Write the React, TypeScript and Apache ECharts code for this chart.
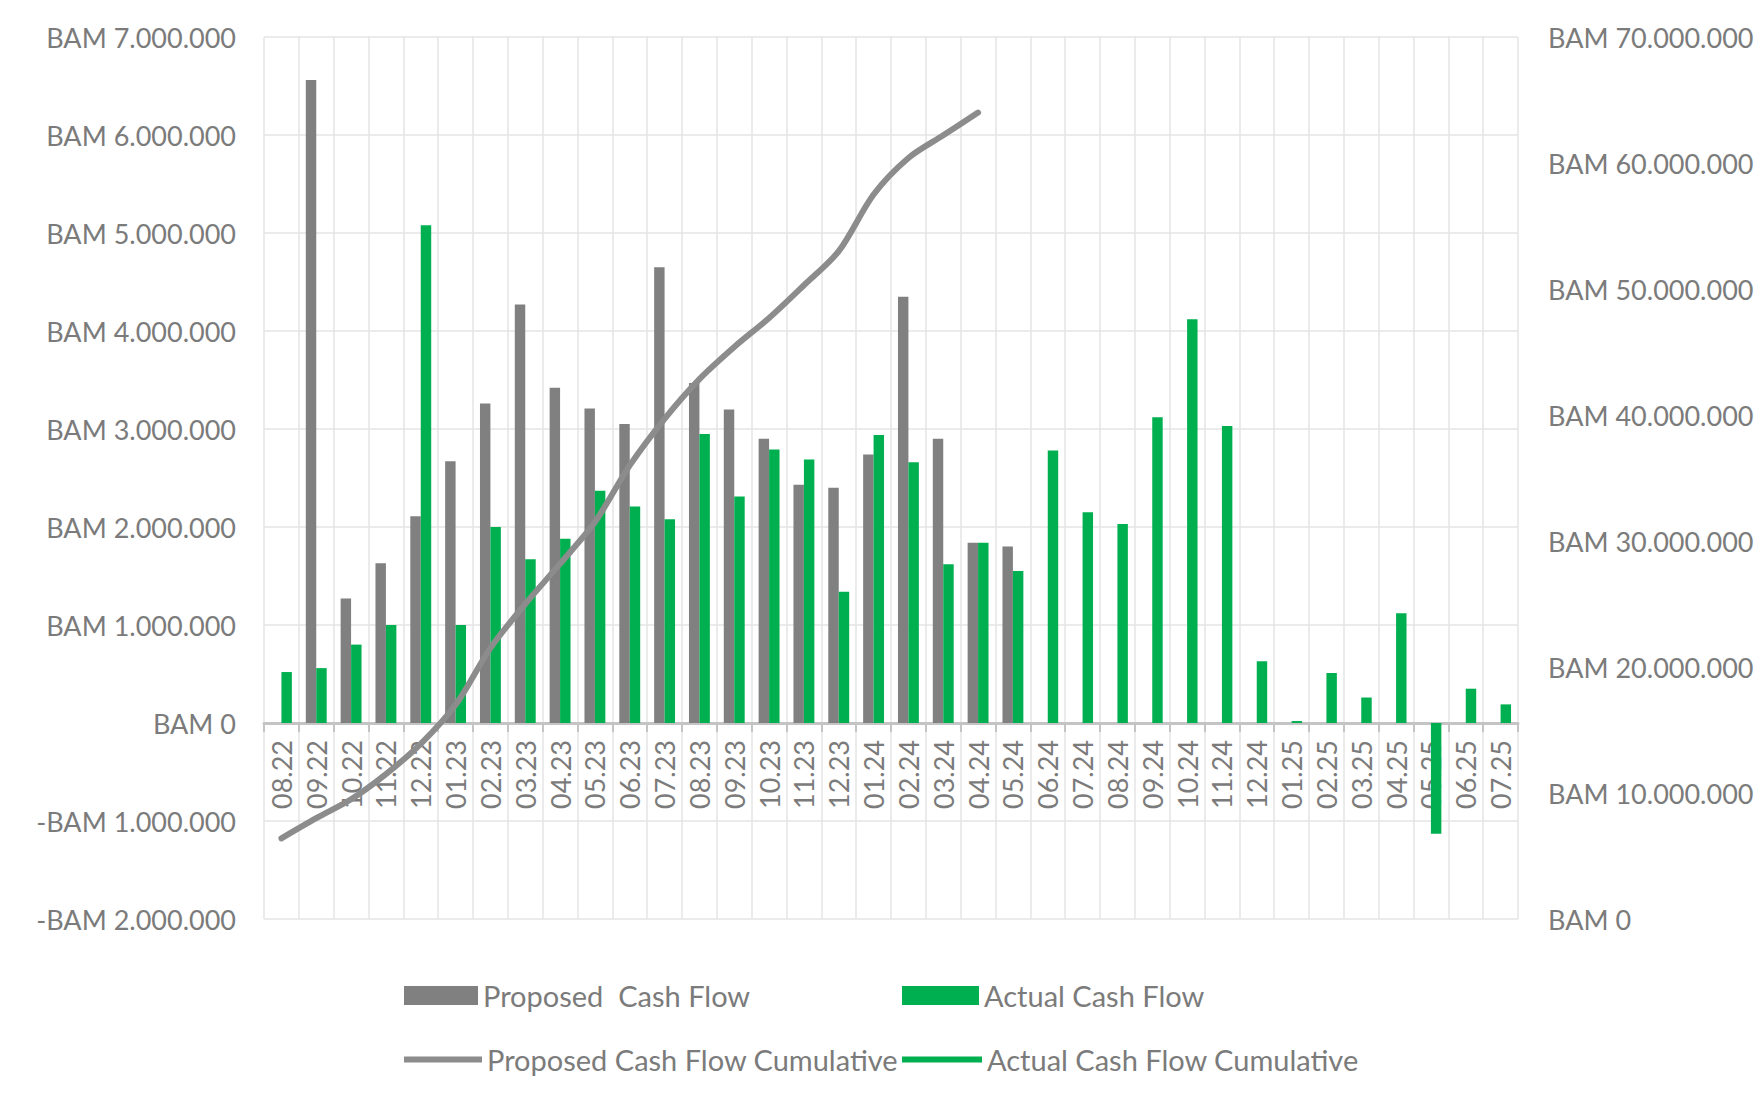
import React, { useEffect, useRef } from "react";
import * as echarts from "echarts";

const categories = [
  "08.22", "09.22", "10.22", "11.22", "12.22",
  "01.23", "02.23", "03.23", "04.23", "05.23", "06.23", "07.23", "08.23", "09.23", "10.23", "11.23", "12.23",
  "01.24", "02.24", "03.24", "04.24", "05.24", "06.24", "07.24", "08.24", "09.24", "10.24", "11.24", "12.24",
  "01.25", "02.25", "03.25", "04.25", "05.25", "06.25", "07.25",
];

const proposedCashFlow: (number | null)[] = [
  null, 6560000, 1270000, 1630000, 2110000,
  2670000, 3260000, 4270000, 3420000, 3210000, 3050000, 4650000, 3470000, 3200000, 2900000, 2430000, 2400000,
  2740000, 4350000, 2900000, 1840000, 1800000, null, null, null, null, null, null, null,
  null, null, null, null, null, null, null,
];

const actualCashFlow: (number | null)[] = [
  520000, 560000, 800000, 1000000, 5080000,
  1000000, 2000000, 1670000, 1880000, 2370000, 2210000, 2080000, 2950000, 2310000, 2790000, 2690000, 1340000,
  2940000, 2660000, 1620000, 1840000, 1550000, 2780000, 2150000, 2030000, 3120000, 4120000, 3030000, 630000,
  20000, 510000, 260000, 1120000, -1130000, 350000, 190000,
];

const proposedCumulative: (number | null)[] = [
  6400000, 8000000, 9500000, 11500000, 13900000,
  17000000, 21500000, 25000000, 28200000, 31500000, 36000000, 39700000, 42850000, 45400000, 47700000, 50300000, 53000000,
  57500000, 60400000, 62200000, 64000000, null, null, null, null, null, null, null, null,
  null, null, null, null, null, null, null,
];

const actualCumulative: (number | null)[] = [];

const leftAxisMin = -2000000;
const leftAxisMax = 7000000;
const leftAxisStep = 1000000;
const rightAxisMin = 0;
const rightAxisMax = 70000000;
const rightAxisStep = 10000000;

const GRAY = "#808080";
const LINE_GRAY = "#8c8c8c";
const GREEN = "#00b050";
const TEXT = "#7b7b7b";
const GRID = "#e4e4e4";
const FONT = "Lato";

const GRID_TOP = 37;
const GRID_HEIGHT = 882;

function bam(v: number): string {
  const s = Math.abs(Math.round(v))
    .toString()
    .replace(/\B(?=(\d{3})+(?!\d))/g, ".");
  return (v < 0 ? "-" : "") + "BAM " + s;
}

export default function App() {
  const ref = useRef<HTMLDivElement>(null);

  useEffect(() => {
    if (!ref.current) return;
    const chart = echarts.init(ref.current, undefined, { renderer: "svg" });
    const legendText = { color: TEXT, fontSize: 29, fontFamily: FONT };
    // distance from the bottom of the grid up to the value 0 of the left axis
    const zeroOffset = (GRID_HEIGHT * (0 - leftAxisMin)) / (leftAxisMax - leftAxisMin);
    chart.setOption({
      animation: false,
      backgroundColor: "#ffffff",
      textStyle: { fontFamily: FONT },
      grid: { left: 264, top: GRID_TOP, width: 1254, height: GRID_HEIGHT, containLabel: false },
      legend: [
        {
          left: 404, top: 981, padding: 0, itemWidth: 74, itemHeight: 19,
          data: [{ name: "Proposed  Cash Flow", icon: "rect" }], textStyle: legendText,
        },
        {
          left: 902, top: 981, padding: 0, itemWidth: 77, itemHeight: 19,
          data: [{ name: "Actual Cash Flow", icon: "rect" }], textStyle: legendText,
        },
        {
          left: 404, top: 1045, padding: 0, itemWidth: 78, itemHeight: 6,
          data: [{ name: "Proposed Cash Flow Cumulative", icon: "rect" }], textStyle: legendText,
        },
        {
          left: 902, top: 1045, padding: 0, itemWidth: 80, itemHeight: 6,
          data: [{ name: "Actual Cash Flow Cumulative", icon: "rect" }], textStyle: legendText,
        },
      ],
      xAxis: [
        {
          type: "category",
          data: categories,
          boundaryGap: true,
          axisLine: { show: false },
          axisTick: { show: false },
          axisLabel: { show: false },
          splitLine: { show: true, interval: 0, lineStyle: { color: GRID, width: 1.5 } },
        },
        {
          type: "category",
          data: categories,
          position: "bottom",
          offset: -zeroOffset,
          boundaryGap: true,
          axisLine: { show: true, onZero: false, lineStyle: { color: "#c4c4c4", width: 3 } },
          axisTick: { show: true, interval: 0, length: 9, lineStyle: { color: "#c4c4c4", width: 2 } },
          axisLabel: { interval: 0, rotate: 90, margin: 17, color: TEXT, fontSize: 27, fontFamily: FONT },
          splitLine: { show: false },
        },
      ],
      yAxis: [
        {
          type: "value",
          min: leftAxisMin,
          max: leftAxisMax,
          interval: leftAxisStep,
          axisLine: { show: false },
          axisTick: { show: false },
          axisLabel: { margin: 28, color: TEXT, fontSize: 27, fontFamily: FONT, formatter: (v: number) => bam(v) },
          splitLine: { show: true, lineStyle: { color: GRID, width: 1.5 } },
        },
        {
          type: "value",
          position: "right",
          min: rightAxisMin,
          max: rightAxisMax,
          interval: rightAxisStep,
          axisLine: { show: false },
          axisTick: { show: false },
          axisLabel: { margin: 30, color: TEXT, fontSize: 27, fontFamily: FONT, formatter: (v: number) => bam(v) },
          splitLine: { show: false },
        },
      ],
      series: [
        {
          name: "Proposed  Cash Flow",
          type: "bar",
          xAxisIndex: 0,
          yAxisIndex: 0,
          data: proposedCashFlow,
          barWidth: "30%",
          barGap: "0%",
          color: GRAY,
          itemStyle: { color: GRAY },
        },
        {
          name: "Actual Cash Flow",
          type: "bar",
          xAxisIndex: 0,
          yAxisIndex: 0,
          data: actualCashFlow,
          barWidth: "30%",
          barGap: "0%",
          color: GREEN,
          itemStyle: { color: GREEN },
        },
        {
          name: "Proposed Cash Flow Cumulative",
          type: "line",
          xAxisIndex: 0,
          yAxisIndex: 1,
          data: proposedCumulative,
          smooth: 0.3,
          symbol: "none",
          showSymbol: false,
          connectNulls: false,
          color: LINE_GRAY,
          itemStyle: { color: LINE_GRAY },
          lineStyle: { color: LINE_GRAY, width: 6, cap: "round" },
          z: 5,
        },
        {
          name: "Actual Cash Flow Cumulative",
          type: "line",
          xAxisIndex: 0,
          yAxisIndex: 1,
          data: actualCumulative,
          symbol: "none",
          showSymbol: false,
          color: GREEN,
          itemStyle: { color: GREEN },
          lineStyle: { color: GREEN, width: 6 },
          z: 5,
        },
      ],
    });
    return () => chart.dispose();
  }, []);

  return (
    <div
      ref={ref}
      style={{ position: "fixed", left: 0, top: 0, width: 1761, height: 1104, background: "#fff" }}
    />
  );
}
